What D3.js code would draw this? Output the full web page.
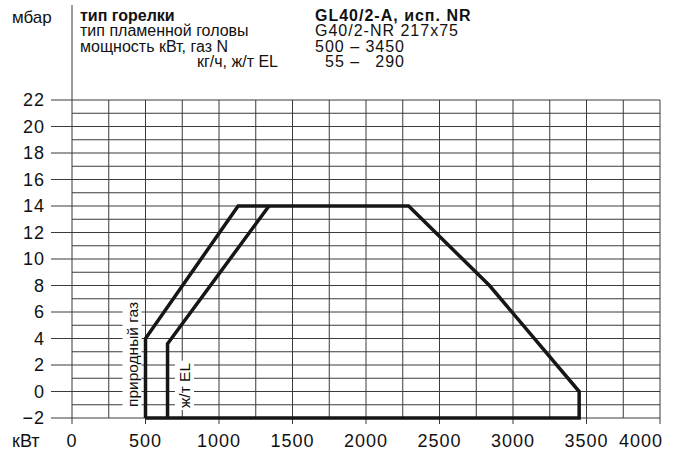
<!DOCTYPE html>
<html>
<head>
<meta charset="utf-8">
<script src="https://cdn.jsdelivr.net/npm/d3@7"></script>
<style>
  html, body { margin: 0; padding: 0; background: #fff; }
  svg { display: block; font-family: "Liberation Sans", Arial, Helvetica, sans-serif; }
</style>
</head>
<body>
<div id="chart"></div>
<script>
// burner working field, GL40/2-A
const gasField = [
  [500, -2], [500, 4], [1130, 14], [2290, 14], [2840, 8], [3450, 0], [3450, -2], [500, -2]
];
const oilStart = [
  [650, -2], [650, 3.6], [1340, 14]
];
const xTicks = [0, 500, 1000, 1500, 2000, 2500, 3000, 3500, 4000];
const yTicks = [-2, 0, 2, 4, 6, 8, 10, 12, 14, 16, 18, 20, 22];
const headLeft = ["тип горелки", "тип пламенной головы", "мощность кВт, газ N", "кг/ч, ж/т EL"];
const headRight = ["GL40/2-A, исп. NR", "G40/2-NR 217x75", "500 –", "55 –"];
const headRightEnd = ["", "", "3450", "290"];

const width = 682, height = 455;
const x = d3.scaleLinear().domain([0, 4000]).range([72, 660]);
const y = d3.scaleLinear().domain([-2, 22]).range([418, 100]);

const svg = d3.select("#chart").append("svg")
  .attr("width", width)
  .attr("height", height);

const grid = svg.append("g").attr("stroke", "#3a3a3a").attr("stroke-width", 1);

// horizontal lines every 1 mbar, longer ticks at even values
grid.selectAll("line.h")
  .data(d3.range(-2, 23, 1))
  .enter().append("line")
  .attr("x1", (d) => (d % 2 === 0 ? 51 : x(0)))
  .attr("x2", x(4000))
  .attr("y1", (d) => y(d))
  .attr("y2", (d) => y(d));

// vertical lines every 250 kW, ticks below at 500
grid.selectAll("line.v")
  .data(d3.range(0, 4001, 250))
  .enter().append("line")
  .attr("x1", (d) => x(d))
  .attr("x2", (d) => x(d))
  .attr("y1", y(22))
  .attr("y2", (d) => (d % 500 === 0 ? y(-2) + 6 : y(-2)));

// separator line up into the header
grid.append("line")
  .attr("x1", x(0)).attr("x2", x(0))
  .attr("y1", 5).attr("y2", y(22));

// axis labels
svg.append("g")
  .attr("font-size", 18)
  .attr("letter-spacing", 1)
  .attr("fill", "#111")
  .selectAll("text")
  .data(yTicks)
  .enter().append("text")
  .attr("x", 45)
  .attr("y", (d) => y(d))
  .attr("dy", "0.36em")
  .attr("text-anchor", "end")
  .text((d) => (d < 0 ? "\u2212" + Math.abs(d) : d));

svg.append("g")
  .attr("font-size", 18)
  .attr("letter-spacing", 1)
  .attr("fill", "#111")
  .selectAll("text")
  .data(xTicks)
  .enter().append("text")
  .attr("x", (d) => (d === 4000 ? x(d) + 3 : x(d)))
  .attr("y", 447)
  .attr("text-anchor", (d) => (d === 4000 ? "end" : "middle"))
  .text((d) => d);

svg.append("text")
  .attr("x", 12).attr("y", 447)
  .attr("font-size", 18)
  .attr("fill", "#111")
  .text("кВт");

svg.append("text")
  .attr("x", 12).attr("y", 23)
  .attr("font-size", 17)
  .attr("fill", "#111")
  .text("мбар");

// header block
const rowY = [20.5, 36, 51.5, 67];
const head = svg.append("g").attr("font-size", 16).attr("fill", "#111");
headLeft.forEach((t, i) => {
  head.append("text")
    .attr("x", i === 3 ? 278 : 80)
    .attr("y", rowY[i])
    .attr("text-anchor", i === 3 ? "end" : "start")
    .attr("font-weight", i === 0 ? "bold" : null)
    .text(t);
});
headRight.forEach((t, i) => {
  head.append("text")
    .attr("x", i === 3 ? 325 : 315)
    .attr("y", rowY[i])
    .attr("letter-spacing", 1)
    .attr("font-weight", i === 0 ? "bold" : null)
    .text(t);
  if (headRightEnd[i]) {
    head.append("text")
      .attr("x", 405)
      .attr("y", rowY[i])
      .attr("letter-spacing", 1)
      .attr("text-anchor", "end")
      .text(headRightEnd[i]);
  }
});

// field curves
const line = d3.line().x((d) => x(d[0])).y((d) => y(d[1]));
const curves = svg.append("g")
  .attr("fill", "none")
  .attr("stroke", "#161616")
  .attr("stroke-width", 3.5)
  .attr("stroke-linejoin", "miter");
curves.append("path").attr("d", line(gasField));
curves.append("path").attr("d", line(oilStart));

// rotated labels on white background
function sideLabel(text, cx, bottom) {
  const g = svg.append("g").attr("transform", `translate(${cx},${bottom}) rotate(-90)`);
  const bg = g.append("rect").attr("fill", "#fff");
  const t = g.append("text")
    .attr("font-size", 15.5)
    .attr("fill", "#111")
    .attr("x", 0)
    .attr("y", 0)
    .text(text);
  const b = t.node().getBBox();
  bg.attr("x", b.x - 2).attr("y", b.y - 1)
    .attr("width", b.width + 4).attr("height", b.height + 2);
}
sideLabel("природный газ", 137.5, 407);
sideLabel("ж/т EL", 190, 408);
</script>
</body>
</html>
